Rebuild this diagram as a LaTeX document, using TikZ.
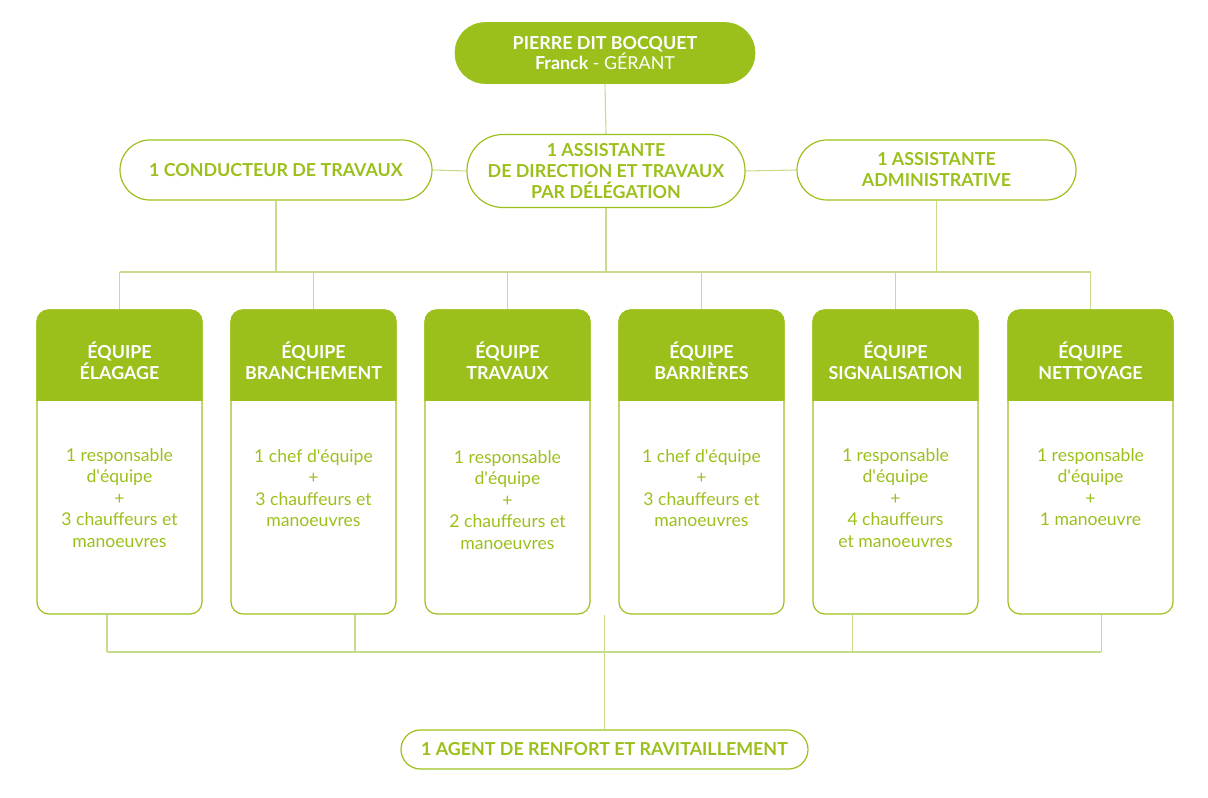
\documentclass[tikz,border=0pt]{standalone}
\usepackage{fontspec}
\setmainfont{Lato}
\definecolor{vert}{HTML}{9BC01C}
\definecolor{ligne}{HTML}{C6DB8B}
\newcommand{\ap}{\textquotesingle}
\begin{document}
\begin{tikzpicture}[x=0.75pt,y=-0.75pt,
  pill/.style={draw=vert,line width=0.9pt,text=vert,align=center,inner sep=0pt,
    font=\fontsize{13.4}{15.8}\selectfont\bfseries},
  topbox/.style={fill=vert,draw=vert,text=white,align=center,inner sep=0pt,
    font=\fontsize{13.4}{15.2}\selectfont},
  teambox/.style={draw=vert,line width=0.9pt,rounded corners=9pt,inner sep=0pt,
    minimum width=123.75pt,minimum height=228pt},
  headtxt/.style={text=white,align=center,inner sep=0pt,
    font=\fontsize{13.4}{15.6}\selectfont\bfseries},
  bodytxt/.style={text=vert,align=center,inner sep=0pt,anchor=north,
    font=\fontsize{13.2}{16.1}\selectfont},
  conn/.style={draw=ligne,line width=0.8pt}]
\useasboundingbox (0,0) rectangle (1208,798);

% top level
\node[topbox,rounded corners=22.5pt,minimum width=225pt,minimum height=45.75pt] (top) at (605,53)
  {\textbf{PIERRE DIT BOCQUET}\\\textbf{Franck} - GÉRANT};
\node[pill,rounded corners=27pt,minimum width=208.5pt,minimum height=54.75pt] (mid) at (606,171)
  {1 ASSISTANTE\\DE DIRECTION ET TRAVAUX\\PAR DÉLÉGATION};
\node[pill,rounded corners=22.5pt,minimum width=234pt,minimum height=45pt] (left) at (276,170)
  {1 CONDUCTEUR DE TRAVAUX};
\node[pill,rounded corners=22.5pt,minimum width=209.25pt,minimum height=45pt] (right) at (936.5,170)
  {1 ASSISTANTE\\ADMINISTRATIVE};
\node[pill,rounded corners=14.6pt,minimum width=305.25pt,minimum height=29.25pt] (agent) at (604.5,749.5)
  {1 AGENT DE RENFORT ET RAVITAILLEMENT};

% teams
\foreach \i/\x/\ha/\hb in {1/119.5/ÉQUIPE/ÉLAGAGE,2/313.5/ÉQUIPE/BRANCHEMENT,3/507.5/ÉQUIPE/TRAVAUX,
  4/701.5/ÉQUIPE/BARRIÈRES,5/895.5/ÉQUIPE/SIGNALISATION,6/1090.5/ÉQUIPE/NETTOYAGE}{
  \node[teambox] (e\i) at (\x,462) {};
  \fill[vert] (e\i.west |- 0,401) [rounded corners=9pt] -- (e\i.north west) -- (e\i.north east)
    [sharp corners] -- (e\i.east |- 0,401) -- cycle;
  \node[headtxt] (h\i) at (\x,361) {\ha\\\hb};
}
\node[bodytxt] (b1) at (e1.center |- 0,448) {1 responsable\\d\ap équipe\\+\\3 chauffeurs et\\manoeuvres};
\node[bodytxt] (b2) at (e2.center |- 0,449) {1 chef d\ap équipe\\+\\3 chauffeurs et\\manoeuvres};
\node[bodytxt] (b3) at (e3.center |- 0,450) {1 responsable\\d\ap équipe\\+\\2 chauffeurs et\\manoeuvres};
\node[bodytxt] (b4) at (e4.center |- 0,449) {1 chef d\ap équipe\\+\\3 chauffeurs et\\manoeuvres};
\node[bodytxt] (b5) at (e5.center |- 0,448) {1 responsable\\d\ap équipe\\+\\4 chauffeurs\\et manoeuvres};
\node[bodytxt] (b6) at (e6.center |- 0,448) {1 responsable\\d\ap équipe\\+\\1 manoeuvre};

% connectors
\coordinate (bus) at (0,272);
\coordinate (bus2) at (0,652);
\draw[conn] (top.south) -- (mid.north);
\draw[conn] (left.east) -- (mid.west);
\draw[conn] (mid.east) -- (right.west);
\draw[conn] (left.south) -- (left.south |- bus);
\draw[conn] (mid.south) -- (mid.south |- bus);
\draw[conn] (right.south) -- (right.south |- bus);
\draw[conn] (e1.north |- bus) -- (e6.north |- bus);
\foreach \i in {1,...,6}{\draw[conn] (e\i.north |- bus) -- (e\i.north);}
\coordinate (d1) at ([xshift=-9.4pt]e1.south);
\coordinate (d2) at ([xshift=31.1pt]e2.south);
\coordinate (d5) at ([xshift=-32.6pt]e5.south);
\coordinate (d6) at ([xshift=7.9pt]e6.south);
\foreach \d in {d1,d2,d5,d6}{\draw[conn] (\d) -- (\d |- bus2);}
\draw[conn] (d1 |- bus2) -- (d6 |- bus2);
\draw[conn] (agent.north |- e3.south) -- (agent.north);
\end{tikzpicture}
\end{document}
